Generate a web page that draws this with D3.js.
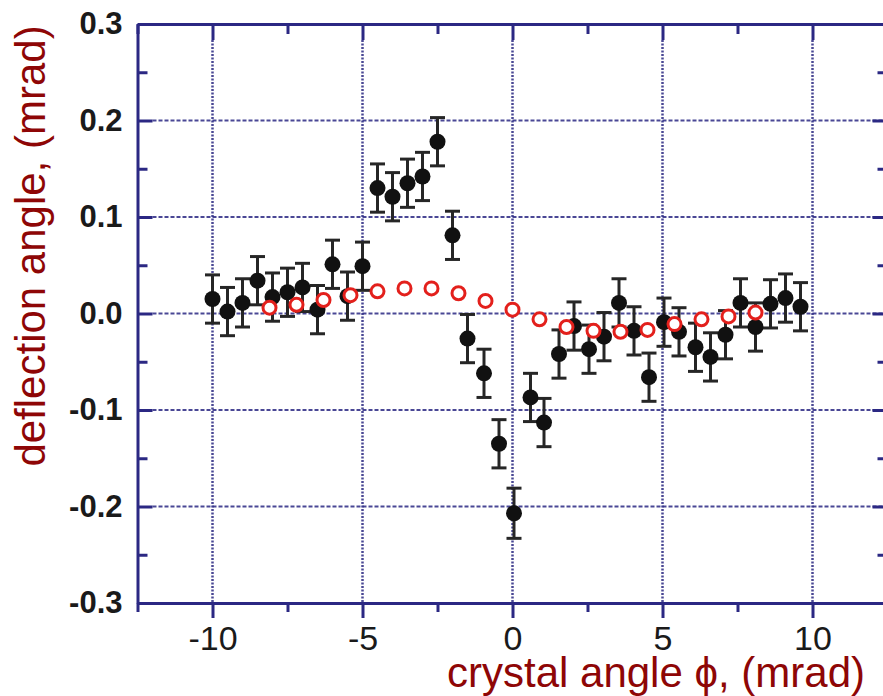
<!DOCTYPE html>
<html>
<head>
<meta charset="utf-8">
<style>
    body { margin: 0; background: white; }
    svg { display: block; font-family: "Liberation Sans", Arial, sans-serif; }
</style>
</head>
<body>
<svg width="883" height="696"></svg>
<script src="https://d3js.org/d3.v7.min.js"></script>
<script>
    // measured deflection (black points with error bars)
    let measX = [-10, -9.5, -9, -8.5, -8, -7.5, -7, -6.5, -6, -5.5,
                 -5, -4.5, -4, -3.5, -3, -2.5, -2, -1.5, -0.95, -0.45,
                 0.05, 0.6, 1.05, 1.55, 2.05, 2.55, 3.05, 3.55, 4.05, 4.55,
                 5.05, 5.55, 6.1, 6.6, 7.1, 7.6, 8.1, 8.6, 9.1, 9.6]
    let measY = [0.015, 0.002, 0.011, 0.034, 0.017, 0.022, 0.027, 0.004, 0.051, 0.018,
                 0.049, 0.130, 0.121, 0.135, 0.142, 0.178, 0.081, -0.026, -0.062, -0.135,
                 -0.207, -0.087, -0.113, -0.042, -0.013, -0.037, -0.024, 0.011, -0.018, -0.066,
                 -0.009, -0.019, -0.035, -0.045, -0.022, 0.011, -0.014, 0.010, 0.016, 0.007]
    let measErr = [0.025, 0.025, 0.025, 0.025, 0.025, 0.025, 0.025, 0.025, 0.025, 0.025,
                   0.025, 0.025, 0.025, 0.025, 0.025, 0.025, 0.025, 0.025, 0.025, 0.025,
                   0.026, 0.025, 0.025, 0.025, 0.025, 0.025, 0.025, 0.025, 0.025, 0.025,
                   0.025, 0.025, 0.025, 0.025, 0.025, 0.025, 0.025, 0.025, 0.025, 0.025]

    // simulation (red open circles)
    let modelX = [-8.1, -7.2, -6.3, -5.4, -4.5, -3.6, -2.7, -1.8, -0.9, 0,
                  0.9, 1.8, 2.7, 3.6, 4.5, 5.4, 6.3, 7.2, 8.1]
    let modelY = [0.006, 0.009, 0.014, 0.019, 0.023, 0.026, 0.026, 0.021, 0.013, 0.004,
                  -0.006, -0.014, -0.018, -0.019, -0.017, -0.011, -0.006, -0.003, 0.001]

    let xTicks = [-10, -5, 0, 5, 10]
    let xMinor = [-12.5, -7.5, -2.5, 2.5, 7.5, 12.5]
    let yTicks = [-0.3, -0.2, -0.1, 0, 0.1, 0.2, 0.3]
    let yMinor = [-0.25, -0.15, -0.05, 0.05, 0.15, 0.25]
    let yGrid = [-0.2, -0.1, 0, 0.1, 0.2]

    let navy = "#2b2883"
    let darkRed = "#8e0606"

    let svg = d3.select("svg")

    let x = d3.scaleLinear().domain([-12.5, 12.5]).range([137.5, 887.5])
    let y = d3.scaleLinear().domain([-0.3, 0.3]).range([603, 24])

    // grid lines
    let grid = svg.append("g")
    grid.selectAll(".vgrid")
        .data(xTicks)
        .join("line")
        .attr("x1", d => x(d)).attr("x2", d => x(d))
        .attr("y1", y(0.3) + 16).attr("y2", y(-0.3))
        .attr("stroke", navy)
        .attr("stroke-width", 2.5)
        .attr("stroke-dasharray", "2,1.5")
        .attr("opacity", 0.85)
    grid.selectAll(".hgrid")
        .data(yGrid)
        .join("line")
        .attr("x1", x(-12.5) + 15).attr("x2", 883)
        .attr("y1", d => y(d)).attr("y2", d => y(d))
        .attr("stroke", navy)
        .attr("stroke-width", 2)
        .attr("stroke-dasharray", "4,2")
        .attr("opacity", 0.85)

    function styleAxis(g) {
        g.select(".domain").attr("stroke", navy).attr("stroke-width", 3)
        g.selectAll(".tick line").attr("stroke", navy).attr("stroke-width", 3)
    }

    // left axis
    let left = svg.append("g")
        .attr("transform", "translate(137.5,0)")
        .call(d3.axisLeft(y).tickValues(yTicks).tickSizeInner(-15).tickSizeOuter(0)
            .tickPadding(15).tickFormat(d => d.toFixed(1)))
        .call(styleAxis)
    left.selectAll("text")
        .attr("font-size", 31).attr("font-weight", "bold").attr("fill", "#1a1a1a")
        .attr("font-family", "Liberation Sans, Arial, sans-serif")
    svg.append("g")
        .attr("transform", "translate(137.5,0)")
        .call(d3.axisLeft(y).tickValues(yMinor).tickSize(-10).tickFormat(""))
        .call(styleAxis)
        .select(".domain").remove()

    // right axis (frame, mostly off canvas)
    svg.append("g")
        .attr("transform", "translate(887.5,0)")
        .call(d3.axisRight(y).tickValues(yTicks).tickSize(-15).tickSizeOuter(0).tickFormat(""))
        .call(styleAxis)
    svg.append("g")
        .attr("transform", "translate(887.5,0)")
        .call(d3.axisRight(y).tickValues(yMinor).tickSize(-10).tickFormat(""))
        .call(styleAxis)
        .select(".domain").remove()

    // top axis
    svg.append("g")
        .attr("transform", "translate(0,24)")
        .call(d3.axisTop(x).tickValues(xTicks).tickSize(-16).tickSizeOuter(0).tickFormat(""))
        .call(styleAxis)
    svg.append("g")
        .attr("transform", "translate(0,24)")
        .call(d3.axisTop(x).tickValues(xMinor).tickSize(-10).tickFormat(""))
        .call(styleAxis)
        .select(".domain").remove()

    // bottom axis
    let bottom = svg.append("g")
        .attr("transform", "translate(0,603)")
        .call(d3.axisBottom(x).tickValues(xTicks).tickSize(15).tickSizeOuter(0)
            .tickPadding(8).tickFormat(d => String(d)))
        .call(styleAxis)
    bottom.selectAll("text")
        .attr("font-size", 34).attr("fill", "#1a1a1a")
        .attr("font-family", "Liberation Sans, Arial, sans-serif")
    svg.append("g")
        .attr("transform", "translate(0,603)")
        .call(d3.axisBottom(x).tickValues(xMinor).tickSize(9).tickFormat(""))
        .call(styleAxis)
        .select(".domain").remove()

    // measured points
    let meas = measX.map((v, i) => ({x: v, y: measY[i], e: measErr[i]}))
    let bars = svg.append("g").attr("stroke", "#262626").attr("stroke-width", 3)
    bars.selectAll(".stem")
        .data(meas)
        .join("line")
        .attr("x1", d => x(d.x)).attr("x2", d => x(d.x))
        .attr("y1", d => y(d.y + d.e)).attr("y2", d => y(d.y - d.e))
    bars.selectAll(".capTop")
        .data(meas)
        .join("line")
        .attr("x1", d => x(d.x) - 7.5).attr("x2", d => x(d.x) + 7.5)
        .attr("y1", d => y(d.y + d.e)).attr("y2", d => y(d.y + d.e))
    bars.selectAll(".capBot")
        .data(meas)
        .join("line")
        .attr("x1", d => x(d.x) - 7.5).attr("x2", d => x(d.x) + 7.5)
        .attr("y1", d => y(d.y - d.e)).attr("y2", d => y(d.y - d.e))

    svg.append("g")
        .selectAll("circle")
        .data(meas)
        .join("circle")
        .attr("cx", d => x(d.x))
        .attr("cy", d => y(d.y))
        .attr("r", 8)
        .attr("fill", "#111")

    // model circles
    svg.append("g")
        .selectAll("circle")
        .data(modelX.map((v, i) => ({x: v, y: modelY[i]})))
        .join("circle")
        .attr("cx", d => x(d.x))
        .attr("cy", d => y(d.y))
        .attr("r", 6.5)
        .attr("fill", "white")
        .attr("stroke", "#e3201c")
        .attr("stroke-width", 3)

    // axis titles
    svg.append("text")
        .attr("transform", "translate(45,246) rotate(-90)")
        .attr("text-anchor", "middle")
        .attr("font-size", 42)
        .attr("fill", darkRed)
        .text("deflection angle, (mrad)")

    svg.append("text")
        .attr("x", 865)
        .attr("y", 687)
        .attr("text-anchor", "end")
        .attr("font-size", 42)
        .attr("fill", darkRed)
        .text("crystal angle ϕ, (mrad)")
</script>
</body>
</html>
